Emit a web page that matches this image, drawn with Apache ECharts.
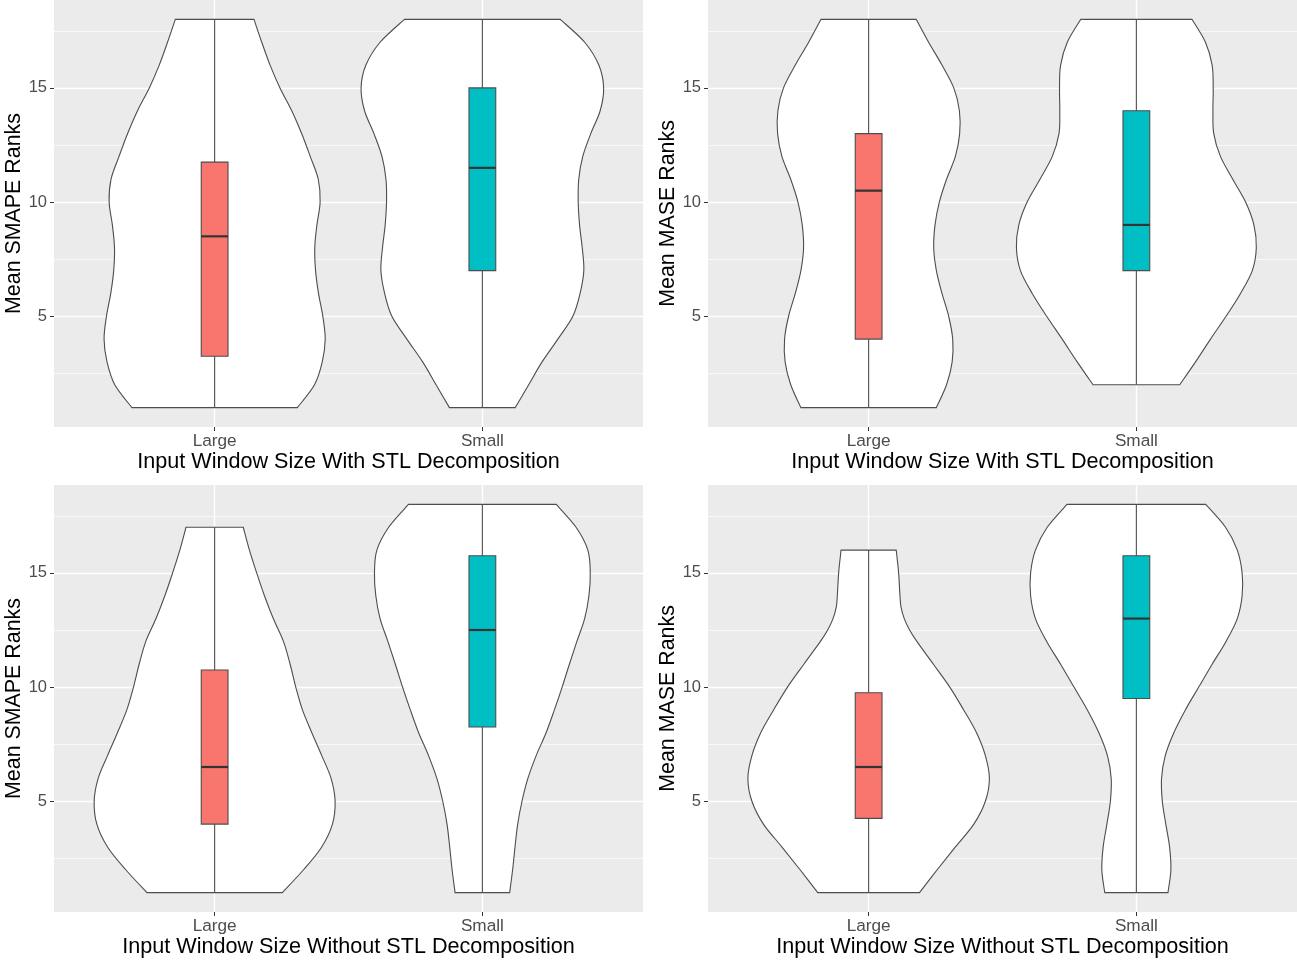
<!DOCTYPE html>
<html>
<head>
<meta charset="utf-8">
<script src="https://cdn.jsdelivr.net/npm/echarts@6/dist/echarts.min.js"></script>
<style>
html,body{margin:0;padding:0;background:#fff;}
#chart{width:1297px;height:961px;}
</style>
</head>
<body>
<div id="chart"></div>
<script>
// ---------- data ----------
const categories = ['Large', 'Small'];
const yTicks = [5, 10, 15];
const yMinorTicks = [2.5, 7.5, 12.5, 17.5];
const yTitles = ['Mean SMAPE Ranks', 'Mean MASE Ranks', 'Mean SMAPE Ranks', 'Mean MASE Ranks'];
const xTitles = ['Input Window Size With STL Decomposition', 'Input Window Size With STL Decomposition',
                 'Input Window Size Without STL Decomposition', 'Input Window Size Without STL Decomposition'];

// violin half-widths (x-axis units) at rank levels
const p1LargeRanks  = [1,2,3,4,5,6,7,8,9,10,11,12,13,14,15,16,17,18];
const p1LargeWidths = [0.309,0.373,0.402,0.413,0.404,0.388,0.377,0.374,0.382,0.394,0.387,0.357,0.325,0.288,0.244,0.207,0.176,0.147];
const p1SmallRanks  = [1,2,3,4,5,6,7,8,9,10,11,12,13,14,15,16,17,18];
const p1SmallWidths = [0.123,0.173,0.223,0.282,0.338,0.365,0.379,0.373,0.363,0.358,0.360,0.375,0.405,0.440,0.453,0.435,0.382,0.291];

const p2LargeRanks  = [1,2,3,4,5,6,7,8,9,10,11,12,13,14,15,16,17,18];
const p2LargeWidths = [0.253,0.291,0.312,0.314,0.299,0.274,0.253,0.243,0.248,0.264,0.291,0.324,0.340,0.339,0.318,0.274,0.224,0.178];
const p2SmallRanks  = [2,3,4,5,6,7,8,9,10,11,12,13,14,15,16,17,18];
const p2SmallWidths = [0.162,0.221,0.277,0.335,0.389,0.433,0.448,0.439,0.408,0.360,0.314,0.289,0.286,0.287,0.283,0.258,0.208];

const p3LargeRanks  = [1,2,3,4,5,6,7,8,9,10,11,12,13,14,15,16,17];
const p3LargeWidths = [0.253,0.332,0.400,0.440,0.450,0.435,0.400,0.363,0.328,0.303,0.282,0.257,0.219,0.186,0.157,0.130,0.107];
const p3SmallRanks  = [1,2,3,4,5,6,7,8,9,10,11,12,13,14,15,16,17,18];
const p3SmallWidths = [0.102,0.113,0.122,0.132,0.148,0.170,0.201,0.238,0.269,0.298,0.325,0.353,0.382,0.398,0.403,0.394,0.350,0.276];

const p4LargeRanks  = [1,2,3,4,5,6,7,8,9,10,11,12,12.5,13,13.5,14,15,16];
const p4LargeWidths = [0.190,0.256,0.324,0.393,0.436,0.451,0.436,0.403,0.355,0.303,0.242,0.180,0.153,0.133,0.121,0.117,0.112,0.103];
const p4SmallRanks  = [1,2,3,4,5,6,7,8,9,10,11,12,13,14,15,16,17,18];
const p4SmallWidths = [0.118,0.129,0.124,0.110,0.097,0.094,0.108,0.140,0.183,0.233,0.283,0.335,0.377,0.395,0.395,0.377,0.333,0.259];

// box plots: [min, q1, median, q3, max]
const p1LargeBox = [1, 3.25, 8.5, 11.75, 18];
const p1SmallBox = [1, 7, 11.5, 15, 18];
const p2LargeBox = [1, 4, 10.5, 13, 18];
const p2SmallBox = [2, 7, 9, 14, 18];
const p3LargeBox = [1, 4, 6.5, 10.75, 17];
const p3SmallBox = [1, 8.25, 12.5, 15.75, 18];
const p4LargeBox = [1, 4.25, 6.5, 9.75, 16];
const p4SmallBox = [1, 9.5, 13, 15.75, 18];

const fillColors = ['#F8766D', '#00BFC4'];

// ---------- assemble ----------
const panels = [
  [{ranks:p1LargeRanks, widths:p1LargeWidths, box:p1LargeBox}, {ranks:p1SmallRanks, widths:p1SmallWidths, box:p1SmallBox}],
  [{ranks:p2LargeRanks, widths:p2LargeWidths, box:p2LargeBox}, {ranks:p2SmallRanks, widths:p2SmallWidths, box:p2SmallBox}],
  [{ranks:p3LargeRanks, widths:p3LargeWidths, box:p3LargeBox}, {ranks:p3SmallRanks, widths:p3SmallWidths, box:p3SmallBox}],
  [{ranks:p4LargeRanks, widths:p4LargeWidths, box:p4LargeBox}, {ranks:p4SmallRanks, widths:p4SmallWidths, box:p4SmallBox}]
];

const FONT = 'Liberation Sans, Arial, Helvetica, sans-serif';
const BOX_HALF = 0.05;

function splineSegs(pts) {
  let d = '';
  const n = pts.length;
  for (let i = 0; i < n - 1; i++) {
    const p0 = pts[i - 1] || pts[i], p1 = pts[i], p2 = pts[i + 1], p3 = pts[i + 2] || pts[i + 1];
    const c1x = p1[0] + (p2[0] - p0[0]) / 6, c1y = p1[1] + (p2[1] - p0[1]) / 6;
    const c2x = p2[0] - (p3[0] - p1[0]) / 6, c2y = p2[1] - (p3[1] - p1[1]) / 6;
    d += ' C' + c1x.toFixed(2) + ',' + c1y.toFixed(2) + ' ' + c2x.toFixed(2) + ',' + c2y.toFixed(2) + ' ' + p2[0].toFixed(2) + ',' + p2[1].toFixed(2);
  }
  return d;
}

function makeRender(g) {
  return function (params, api) {
    const k = params.dataIndex;
    const v = panels[g][k];
    const c = api.value(0);
    const right = v.ranks.map((r, i) => api.coord([c + v.widths[i], r]));
    const left = v.ranks.map((r, i) => api.coord([c - v.widths[i], r])).reverse();
    let d = 'M' + right[0][0].toFixed(2) + ',' + right[0][1].toFixed(2) + splineSegs(right);
    d += ' L' + left[0][0].toFixed(2) + ',' + left[0][1].toFixed(2) + splineSegs(left) + ' Z';
    const b = v.box;
    const pMin = api.coord([c, b[0]]), pMax = api.coord([c, b[4]]);
    const tl = api.coord([c - BOX_HALF, b[3]]), br = api.coord([c + BOX_HALF, b[1]]);
    const mL = api.coord([c - BOX_HALF, b[2]]), mR = api.coord([c + BOX_HALF, b[2]]);
    return {
      type: 'group',
      children: [
        {type: 'path', shape: {pathData: d}, style: {fill: '#FFFFFF', stroke: '#4D4D4D', lineWidth: 1.1}},
        {type: 'line', shape: {x1: pMin[0], y1: pMin[1], x2: pMax[0], y2: pMax[1]}, style: {stroke: '#4D4D4D', lineWidth: 1.1}},
        {type: 'rect', shape: {x: tl[0], y: tl[1], width: br[0] - tl[0], height: br[1] - tl[1]},
          style: {fill: fillColors[k], stroke: '#4D4D4D', lineWidth: 1.1}},
        {type: 'line', shape: {x1: mL[0], y1: mL[1], x2: mR[0], y2: mR[1]}, style: {stroke: '#333333', lineWidth: 2.2}}
      ]
    };
  };
}

const gridPos = [
  {left: 54, top: 0}, {left: 708, top: 0}, {left: 54, top: 485}, {left: 708, top: 485}
];

const option = {
  animation: false,
  backgroundColor: '#FFFFFF',
  grid: gridPos.map(p => ({left: p.left, top: p.top, width: 589, height: 427, show: true,
    backgroundColor: '#EBEBEB', borderWidth: 0, containLabel: false, outerBoundsMode: 'none'})),
  xAxis: gridPos.map((p, g) => ({
    type: 'value', gridIndex: g, min: 0.4, max: 2.6,
    axisLine: {show: false},
    axisTick: {show: true, customValues: [1, 2], length: 4, lineStyle: {color: '#333333', width: 1}},
    axisLabel: {customValues: [1, 2], formatter: val => categories[Math.round(val) - 1], color: '#4D4D4D',
      fontSize: 17.2, margin: 6, fontFamily: FONT},
    splitLine: {show: true, lineStyle: {color: '#FFFFFF', width: 1.4}},
    name: xTitles[g], nameLocation: 'middle', nameGap: 24.5,
    nameTextStyle: {fontSize: 21.6, color: '#000000', fontFamily: FONT}
  })),
  yAxis: [].concat(...gridPos.map((p, g) => ([
    {
      type: 'value', gridIndex: g, min: 0.15, max: 18.85, position: 'left',
      axisLine: {show: false},
      axisTick: {show: true, customValues: yTicks, length: 4, lineStyle: {color: '#333333', width: 1}},
      axisLabel: {customValues: yTicks, color: '#4D4D4D', fontSize: 16.5, margin: 7, fontFamily: FONT},
      splitLine: {show: true, lineStyle: {color: '#FFFFFF', width: 1.4}},
      name: yTitles[g], nameLocation: 'middle', nameGap: 25,
      nameTextStyle: {fontSize: 21.4, color: '#000000', fontFamily: FONT}
    },
    {
      type: 'value', gridIndex: g, min: 0.15, max: 18.85, position: 'left',
      axisLine: {show: false},
      axisTick: {show: false, customValues: yMinorTicks},
      axisLabel: {show: false, customValues: yMinorTicks},
      splitLine: {show: true, lineStyle: {color: '#FFFFFF', width: 0.7}}
    }
  ]))),
  series: gridPos.map((p, g) => ({
    type: 'custom', xAxisIndex: g, yAxisIndex: 2 * g,
    renderItem: makeRender(g),
    data: categories.map((c, i) => [i + 1]),
    encode: {x: 0},
    silent: true
  }))
};

const chart = echarts.init(document.getElementById('chart'), null, {renderer: 'canvas'});
chart.setOption(option);
</script>
</body>
</html>
